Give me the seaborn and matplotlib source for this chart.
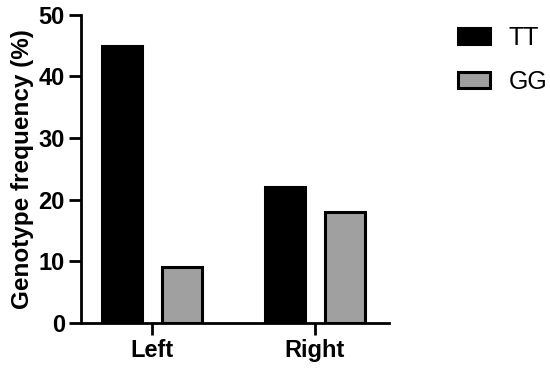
import matplotlib
matplotlib.use("Agg")
import matplotlib.pyplot as plt
import pandas as pd
import seaborn as sns

# --- Data ---
sides = ["Left", "Right"]
genotypes = ["TT", "GG"]
tt_freq = [45, 22]
gg_freq = [9, 18]

df = pd.DataFrame({
    "Side": sides * 2,
    "Genotype": ["TT"] * len(sides) + ["GG"] * len(sides),
    "Frequency": tt_freq + gg_freq,
})

sns.set_style("ticks")
plt.rcParams["font.family"] = ["Liberation Sans", "DejaVu Sans"]
plt.rcParams["text.color"] = "black"
plt.rcParams["axes.labelcolor"] = "black"
plt.rcParams["xtick.color"] = "black"
plt.rcParams["ytick.color"] = "black"

fig = plt.figure(figsize=(5.5, 3.72), dpi=100)
ax = fig.add_axes([0.147, 0.132, 0.56, 0.828])

sns.barplot(data=df, x="Side", y="Frequency", hue="Genotype",
            hue_order=genotypes, palette={"TT": "#000000", "GG": "#a0a0a0"},
            width=0.736, gap=0.335, edgecolor="black", linewidth=2.2,
            saturation=1, ax=ax)

ax.set_ylim(0, 50)
ax.set_yticks(range(0, 51, 10))
ax.set_xlim(-0.436, 1.454)
ax.set_xlabel("")
ax.set_ylabel("Genotype frequency (%)", fontsize=17.5, fontweight="bold",
              labelpad=3)
ax.tick_params(axis="both", width=2, length=8.5, labelsize=17, pad=3)
for lbl in ax.get_xticklabels() + ax.get_yticklabels():
    lbl.set_fontweight("bold")
for s in ["left", "bottom"]:
    ax.spines[s].set_linewidth(2)
    ax.spines[s].set_color("black")
sns.despine(ax=ax)

leg = ax.legend(loc="upper left", bbox_to_anchor=(1.183, 1.005), frameon=False,
                fontsize=18, handlelength=1.3, handleheight=0.6,
                handletextpad=0.75, labelspacing=0.8, borderpad=0)

fig.savefig("out.png", dpi=100)
